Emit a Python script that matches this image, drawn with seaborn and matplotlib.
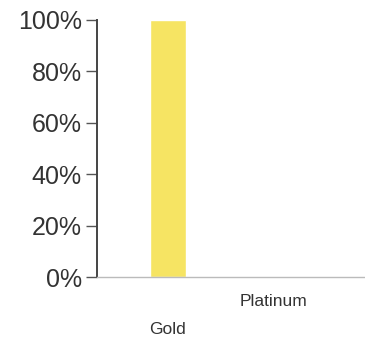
import matplotlib
matplotlib.use("Agg")
import matplotlib.pyplot as plt
import pandas as pd
import seaborn as sns
from matplotlib.ticker import PercentFormatter

# data
metals = ["Gold", "Platinum"]
shares = [100, 0]

sns.set_theme(style="white")
plt.rcParams['font.family'] = ['Liberation Sans', 'DejaVu Sans']

df = pd.DataFrame({"metal": metals, "share": shares})

fig = plt.figure(figsize=(3.65, 3.38), dpi=100)
ax = fig.add_axes([0.266, 0.180, 0.734, 0.761])

sns.barplot(data=df, x="metal", y="share", color="#f6e463", width=0.34,
            saturation=1, ax=ax)

ax.set_ylim(0, 100)
ax.set_xlim(-0.67, 1.87)
ax.set_yticks(range(0, 101, 20))
ax.yaxis.set_major_formatter(PercentFormatter(decimals=0))
ax.set_xlabel("")
ax.set_ylabel("")

ax.tick_params(axis="y", left=True, length=8, width=1, color="#555555",
               pad=3, labelsize=18, labelcolor="#333333")
ax.tick_params(axis="x", bottom=False, labelsize=12.5, labelcolor="#333333")

# staggered category labels
ticks = ax.xaxis.get_major_ticks()
ticks[0].set_pad(26)
ticks[1].set_pad(6)

for side in ["top", "right"]:
    ax.spines[side].set_visible(False)
ax.spines["left"].set_color("#444444")
ax.spines["left"].set_linewidth(1.4)
ax.spines["bottom"].set_color("#bbbbbb")
ax.spines["bottom"].set_linewidth(1)
ax.spines["bottom"].set_linestyle((0, (2, 1)))

fig.savefig("out.png", dpi=100)
